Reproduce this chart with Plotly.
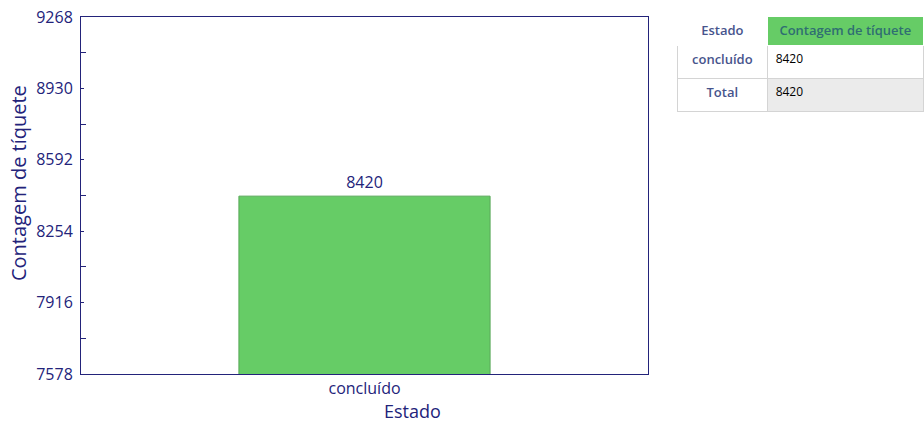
import plotly.graph_objects as go

# Ticket counts by status
estados = ["concluído"]
contagens = [8420]
total = sum(contagens)

# Value axis ticks
y_ticks = [7578, 7916, 8254, 8592, 8930, 9268]
y_minor = [(a + b) / 2 for a, b in zip(y_ticks[:-1], y_ticks[1:])]

NAVY = "#23237a"
SLATE = "#47548c"
GREEN = "#66cc66"
FONT = "Open Sans"

fig = go.Figure()

fig.add_trace(go.Bar(
    x=estados,
    y=contagens,
    width=0.443,
    marker=dict(color=GREEN, line=dict(color="#58a858", width=1)),
    text=[str(v) for v in contagens],
    textposition="outside",
    textfont=dict(family=FONT, size=16, color=NAVY),
    cliponaxis=False,
    hoverinfo="skip",
))

fig.add_trace(go.Table(
    domain=dict(x=[0.707, 1.0], y=[0, 0.995]),
    columnwidth=[91, 156],
    header=dict(
        values=["Estado", "Contagem de tíquete"],
        fill_color=["white", GREEN],
        line=dict(color="white", width=1),
        font=dict(family=FONT, size=13, weight=600, color=[SLATE, "#2f6e72"]),
        align=["center", "center"],
        height=29,
    ),
    cells=dict(
        values=[estados + ["Total"], [str(v) for v in contagens] + [str(total)]],
        fill_color=[["white", "white"], ["white", "#ebebeb"]],
        line=dict(color="#d4d4d4", width=1),
        font=dict(family=FONT, size=[13, 12], weight=[600, 400], color=[SLATE, "black"]),
        align=["center", "left"],
        height=33,
    ),
))

fig.update_layout(
    width=924,
    height=423,
    margin=dict(l=81, r=0, t=15, b=49),
    paper_bgcolor="white",
    plot_bgcolor="white",
    showlegend=False,
    font=dict(family=FONT, color=NAVY),
    xaxis=dict(
        domain=[0, 0.6726],
        range=[-0.5, 0.5],
        showline=True,
        linecolor=NAVY,
        linewidth=1,
        mirror=True,
        ticks="",
        showgrid=False,
        tickfont=dict(family=FONT, size=16, color=NAVY),
    ),
    yaxis=dict(
        domain=[0, 0.9944],
        range=[y_ticks[0], y_ticks[-1]],
        tickmode="array",
        tickvals=y_ticks,
        ticktext=[str(v) for v in y_ticks],
        showline=True,
        linecolor=NAVY,
        linewidth=1,
        mirror=True,
        ticks="inside",
        ticklen=3,
        tickcolor=NAVY,
        ticklabelstandoff=4,
        showgrid=False,
        zeroline=False,
        tickfont=dict(family=FONT, size=16, color=NAVY),
        minor=dict(tickmode="array", tickvals=y_minor, ticks="inside",
                   ticklen=5, tickcolor=NAVY, showgrid=False),
    ),
    annotations=[
        dict(text="Contagem de tíquete", textangle=-90, showarrow=False,
             xref="paper", yref="paper", x=-0.0747, y=0.532,
             xanchor="center", yanchor="middle",
             font=dict(family=FONT, size=20, color=NAVY)),
        dict(text="Estado", showarrow=False,
             xref="paper", yref="paper", x=0.3938, y=-0.103,
             xanchor="center", yanchor="middle",
             font=dict(family=FONT, size=18, color=NAVY)),
    ],
)

fig.write_html("out.html")
